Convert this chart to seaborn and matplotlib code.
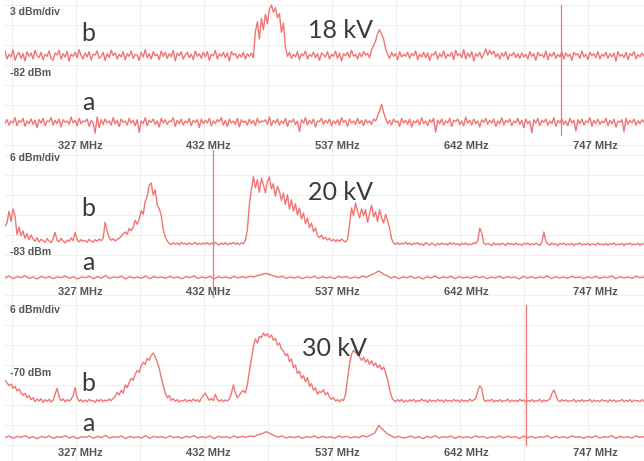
import numpy as np
import matplotlib
matplotlib.use("Agg")
import matplotlib.pyplot as plt
import seaborn as sns

# ---- sweep settings -------------------------------------------------------
freq_start, freq_stop = 266.0, 787.0
tick_freqs = [327, 432, 537, 642, 747]
tick_labels = ["327 MHz", "432 MHz", "537 MHz", "642 MHz", "747 MHz"]

voltages = ["18 kV", "20 kV", "30 kV"]
scale_labels = ["3 dBm/div", "6 dBm/div", "6 dBm/div"]
ref_labels = ["-82 dBm", "-83 dBm", "-70 dBm"]
marker_freqs = [719.0, 435.5, 691.0]

# ---- measured traces (dBm); "b" = discharge present, "a" = background -----
b_18kv = [
    -80.4, -81.6, -80.9, -81.3, -80.2, -81.8, -81.0, -80.6, -81.5, -80.8, -81.9, -80.5, -81.2, -80.7, -81.6, -80.3, -81.1, -81.4, -80.6, -81.7,
    -80.9, -81.2, -80.4, -81.5, -81.8, -80.7, -81.0, -80.3, -81.6, -80.8, -81.3, -80.5, -81.9, -80.9, -81.2, -80.6, -81.4, -80.2, -81.1, -81.6,
    -80.7, -81.3, -80.5, -81.7, -80.9, -81.0, -80.4, -81.5, -81.2, -80.6, -81.8, -80.8, -81.4, -80.3, -81.1, -80.7, -81.6, -80.9, -81.3, -80.5,
    -81.7, -80.8, -81.2, -80.4, -81.5, -80.9, -81.0, -81.8, -80.6, -81.3, -80.2, -81.4, -80.8, -81.6, -80.5, -81.1, -80.9, -81.7, -80.4, -81.2,
    -80.6, -81.5, -80.8, -81.3, -80.3, -81.9, -80.7, -81.1, -80.5, -81.6, -81.0, -80.6, -81.4, -80.9, -81.7, -80.4, -81.2, -80.8, -81.5, -80.6,
    -81.3, -80.5, -81.8, -80.9, -81.1, -80.3, -81.6, -80.8, -81.2, -80.6, -81.4, -80.7, -81.9, -80.5, -81.0, -80.8, -81.5, -80.9, -81.3, -80.6,
    -81.6, -80.8, -81.2, -80.7, -81.4, -77.5, -76.0, -78.6, -75.5, -77.2, -74.9, -76.3, -74.2, -73.5, -74.6, -73.9, -75.4, -74.8, -77.6, -76.2,
    -79.8, -81.2, -80.6, -81.5, -80.9, -81.3, -80.5, -81.7, -80.8, -81.1, -80.4, -81.6, -80.9, -81.2, -80.6, -81.4, -80.8, -81.8, -80.7, -81.0,
    -81.3, -80.5, -81.6, -80.9, -81.2, -80.4, -81.5, -80.7, -81.9, -80.8, -81.1, -80.6, -81.4, -80.3, -81.2, -80.9, -81.6, -80.7, -81.3, -80.5,
    -81.0, -80.8, -81.4, -80.2, -79.6, -78.9, -77.8, -77.2, -77.9, -78.6, -80.1, -80.9, -81.5, -80.6, -81.2, -80.8, -81.7, -80.5, -81.3, -80.9,
    -81.2, -80.6, -81.5, -80.8, -81.1, -80.4, -81.7, -80.9, -81.3, -80.6, -81.4, -80.7, -81.8, -80.9, -81.0, -80.5, -81.6, -80.8, -81.3, -80.4,
    -81.5, -80.9, -81.2, -80.6, -81.7, -80.3, -81.1, -80.8, -81.4, -80.2, -81.6, -80.7, -81.3, -80.5, -81.9, -80.8, -81.2, -80.6, -81.5, -80.9,
    -80.1, -81.0, -80.3, -80.9, -80.4, -81.3, -80.8, -81.6, -80.7, -81.2, -80.5, -81.7, -80.9, -81.1, -80.6, -81.4, -80.8, -81.5, -80.7, -81.3,
    -80.9, -81.6, -80.5, -81.2, -80.8, -81.8, -80.6, -81.1, -80.9, -81.4, -80.4, -81.7, -80.8, -81.2, -80.6, -81.5, -80.9, -81.3, -80.5, -81.6,
    -80.7, -81.2, -80.9, -81.8, -80.6, -81.0, -80.8, -81.5, -80.4, -81.3, -80.9, -81.7, -80.6, -81.1, -80.8, -81.4, -80.5, -81.6, -80.9, -81.2,
    -80.6, -81.5, -80.8, -81.3, -80.7, -81.9, -80.5, -81.2, -80.9, -81.4, -80.6, -81.7, -80.8, -81.1, -80.5, -81.6, -80.9, -81.3, -80.7, -81.2,
]
a_18kv = [
    -81.3, -80.7, -81.5, -80.9, -81.2, -80.4, -81.6, -80.8, -81.1, -80.5, -81.7, -80.9, -81.3, -80.6, -81.4, -80.8, -81.9, -80.7, -81.2, -80.5,
    -81.6, -80.9, -81.0, -80.4, -81.5, -80.8, -81.3, -80.6, -81.8, -80.7, -81.1, -80.9, -81.4, -80.3, -81.2, -80.8, -81.6, -80.5, -81.3, -80.9,
    -81.0, -80.6, -81.7, -80.8, -81.2, -82.7, -80.3, -81.9, -80.7, -81.4, -80.6, -81.2, -80.9, -81.5, -80.4, -81.3, -80.8, -81.7, -80.6, -81.1,
    -80.9, -81.5, -80.5, -81.2, -80.8, -81.6, -80.7, -82.6, -80.9, -81.3, -80.4, -81.6, -80.8, -81.1, -80.6, -81.4, -80.9, -81.8, -80.5, -81.2,
    -80.7, -81.4, -80.9, -81.0, -80.4, -81.7, -80.8, -81.3, -80.6, -81.5, -80.9, -81.2, -80.5, -81.6, -80.8, -81.1, -80.7, -81.9, -80.6, -81.3,
    -80.8, -81.2, -80.5, -81.6, -80.9, -81.3, -80.7, -81.0, -80.4, -81.5, -80.8, -81.7, -80.6, -81.2, -80.9, -81.4, -80.5, -81.8, -80.7, -81.1,
    -80.9, -81.5, -80.6, -81.3, -80.8, -81.6, -80.5, -81.2, -80.9, -81.0, -80.7, -81.4, -80.3, -81.6, -80.8, -81.2, -80.6, -81.5, -80.9, -81.3,
    -80.5, -81.7, -80.8, -81.1, -80.6, -81.4, -80.9, -82.5, -80.7, -81.2, -80.4, -81.5, -80.8, -81.3, -80.6, -81.8, -80.9, -81.0, -80.5, -81.4,
    -80.8, -81.2, -80.6, -81.6, -80.9, -81.3, -80.7, -81.5, -80.4, -81.1, -80.8, -81.7, -80.6, -81.2, -80.9, -81.4, -80.5, -81.3, -80.8, -81.6,
    -80.7, -81.2, -80.9, -81.4, -80.6, -80.9, -80.2, -79.4, -78.4, -79.6, -80.5, -81.3, -80.8, -81.5, -80.6, -81.1, -80.9, -81.7, -80.5, -81.2,
    -80.8, -81.4, -80.6, -81.8, -80.9, -81.2, -80.7, -81.5, -80.4, -81.3, -80.9, -81.6, -80.7, -81.1, -80.5, -82.6, -80.8, -81.3, -80.6, -81.5,
    -80.9, -81.2, -80.5, -81.7, -80.8, -81.0, -80.6, -81.4, -80.9, -81.6, -80.3, -81.2, -80.8, -81.5, -80.6, -81.3, -80.9, -81.8, -80.7, -81.1,
    -80.5, -81.4, -80.8, -81.2, -80.6, -81.7, -80.9, -81.3, -80.4, -81.5, -80.8, -81.1, -80.6, -81.6, -80.9, -81.2, -80.5, -81.4, -80.8, -81.9,
    -80.6, -81.3, -80.9, -82.7, -80.7, -81.2, -80.5, -81.6, -80.8, -81.1, -80.6, -81.5, -80.9, -81.3, -80.4, -81.7, -80.8, -81.2, -80.6, -81.4,
    -80.9, -81.6, -80.5, -81.2, -80.8, -82.4, -80.7, -81.3, -80.6, -81.5, -80.9, -81.1, -80.4, -81.7, -80.8, -81.3, -80.6, -81.4, -80.9, -81.2,
    -80.5, -81.6, -80.8, -81.3, -80.6, -81.8, -80.9, -81.1, -80.7, -82.5, -80.5, -81.4, -80.8, -81.2, -80.6, -81.5, -80.9, -81.3, -80.7, -81.1,
]
b_20kv = [
    -77.0, -76.0, -72.5, -75.5, -71.8, -74.0, -79.5, -77.2, -79.8, -78.4, -80.6, -79.2, -81.0, -79.6, -80.8, -81.5, -80.4, -81.7, -80.9, -81.3,
    -81.8, -80.7, -81.4, -81.9, -80.8, -78.8, -81.2, -81.6, -80.6, -81.4, -82.0, -81.1, -81.5, -80.5, -81.3, -78.8, -80.9, -81.7, -81.0, -81.5,
    -81.2, -81.8, -80.9, -81.4, -81.7, -81.0, -81.5, -80.8, -81.3, -80.6, -75.8, -78.5, -80.4, -81.2, -80.7, -81.4, -80.9, -80.6, -80.0, -79.3,
    -78.7, -79.4, -77.6, -78.3, -77.3, -75.2, -76.4, -74.8, -72.3, -73.4, -69.5, -68.0, -64.6, -64.0, -67.6, -66.0, -70.6, -71.8, -73.6, -78.0,
    -80.2, -81.4, -82.1, -82.5, -81.9, -82.4, -82.0, -82.6, -81.8, -82.3, -82.1, -82.5, -81.9, -82.4, -82.2, -81.8, -82.5, -82.1, -82.4, -82.0,
    -82.3, -81.9, -82.5, -82.0, -82.4, -81.8, -82.3, -82.6, -82.0, -82.4, -81.9, -82.5, -82.1, -82.3, -81.8, -82.4, -82.0, -82.5, -81.9, -82.2,
    -81.2, -78.0, -70.5, -66.0, -62.0, -65.5, -63.0, -66.8, -62.6, -64.5, -67.0, -63.5, -62.2, -65.8, -64.2, -68.0, -65.0, -66.5, -69.2, -67.0,
    -70.5, -67.5, -71.8, -69.0, -72.4, -70.2, -73.6, -71.5, -74.8, -73.0, -76.2, -74.5, -77.4, -76.0, -78.6, -77.5, -79.8, -80.4, -79.6, -80.8,
    -80.3, -81.1, -80.6, -81.4, -80.9, -81.6, -81.0, -81.5, -80.8, -81.3, -81.7, -80.9, -76.6, -71.5, -73.8, -70.0, -72.5, -74.5, -71.8, -73.8,
    -72.0, -75.8, -73.2, -70.6, -74.2, -72.6, -75.6, -72.0, -74.4, -76.0, -73.4, -75.2, -77.6, -80.8, -82.0, -82.4, -81.9, -82.5, -82.1, -82.3,
    -81.8, -82.4, -82.0, -82.6, -82.1, -82.3, -81.9, -82.5, -82.2, -82.7, -81.9, -82.3, -82.6, -82.0, -82.4, -82.8, -82.1, -82.5, -82.0, -82.4,
    -82.2, -82.6, -81.9, -82.4, -82.0, -82.5, -82.2, -82.7, -82.1, -82.4, -82.0, -82.6, -82.3, -82.5, -81.9, -82.2, -81.4, -77.5, -79.0, -82.0,
    -82.5, -82.1, -82.4, -82.8, -82.0, -82.5, -82.2, -82.6, -82.1, -82.3, -82.7, -82.0, -82.4, -82.2, -82.6, -82.0, -82.5, -82.3, -82.7, -82.1,
    -82.4, -82.0, -82.6, -82.2, -82.5, -82.1, -82.4, -82.7, -81.8, -78.7, -81.5, -82.3, -82.6, -82.0, -82.5, -82.2, -82.8, -82.1, -82.4, -82.0,
    -82.6, -82.3, -82.5, -82.1, -82.8, -82.2, -82.4, -82.0, -82.6, -82.3, -82.5, -82.1, -82.7, -82.2, -82.4, -82.6, -82.0, -82.5, -82.3, -82.6,
    -82.1, -82.7, -82.2, -82.4, -82.0, -82.6, -82.3, -82.5, -82.1, -82.8, -82.2, -82.4, -82.0, -82.6, -82.3, -82.5, -82.1, -82.7, -82.2, -82.4,
]
a_20kv = [
    -82.3, -81.7, -82.5, -81.9, -82.2, -81.6, -82.4, -82.0, -82.6, -81.8, -82.3, -81.9, -82.5, -82.0, -82.2, -81.7, -82.4, -81.9, -82.6, -82.0,
    -82.2, -81.8, -82.5, -81.9, -82.3, -81.6, -82.4, -82.0, -82.2, -81.8, -82.6, -81.9, -82.3, -82.0, -82.4, -81.7, -82.5, -81.9, -82.2, -82.0,
    -82.4, -81.8, -82.3, -82.0, -82.5, -81.9, -82.2, -81.7, -82.4, -82.0, -82.3, -81.8, -82.6, -81.9, -82.2, -82.0, -82.4, -81.8, -82.3, -81.9,
    -82.2, -81.8, -82.0, -81.5, -81.2, -80.9, -81.3, -81.7, -82.1, -81.8, -82.4, -82.0, -82.3, -81.9, -82.5, -82.0, -82.2, -81.8, -82.4, -81.9,
    -82.3, -82.0, -82.5, -81.8, -82.2, -81.9, -82.4, -82.0, -82.3, -81.7, -82.1, -81.4, -80.9, -80.2, -81.0, -81.6, -82.3, -81.9, -82.5, -82.0,
    -82.2, -81.8, -82.4, -82.0, -82.6, -81.9, -82.3, -81.7, -82.4, -82.0, -82.2, -81.8, -82.5, -81.9, -82.3, -82.0, -82.4, -81.8, -82.2, -81.9,
    -82.5, -82.0, -82.3, -81.8, -82.4, -81.9, -82.2, -82.0, -82.6, -81.8, -82.3, -81.9, -82.4, -82.0, -82.2, -81.7, -82.5, -81.9, -82.3, -82.0,
    -82.4, -81.8, -82.2, -82.0, -82.5, -81.9, -82.3, -81.8, -82.4, -82.0, -82.2, -81.7, -82.5, -81.9, -82.3, -82.0, -82.4, -81.8, -82.2, -82.0,
]
b_30kv = [
    -71.8, -72.6, -73.4, -72.9, -74.2, -73.6, -75.0, -74.4, -75.6, -76.3, -75.7, -77.0, -76.4, -77.6, -77.0, -78.2, -77.4, -78.0, -77.3, -78.4,
    -77.6, -78.1, -77.5, -78.3, -77.8, -76.0, -74.2, -76.8, -77.9, -77.4, -78.2, -77.6, -78.0, -77.5, -76.4, -74.0, -76.9, -78.1, -77.6, -78.3,
    -77.7, -78.2, -77.5, -78.0, -77.8, -78.4, -77.6, -78.1, -77.5, -78.2, -77.7, -78.0, -77.4, -77.9, -77.2, -76.6, -75.4, -76.2, -74.8, -75.6,
    -73.2, -74.0, -72.4, -71.2, -71.8, -70.0, -68.8, -69.5, -67.4, -66.4, -67.0, -65.2, -65.8, -64.3, -63.6, -64.8, -66.4, -68.2, -71.0, -73.4,
    -75.6, -77.0, -76.4, -77.8, -77.3, -78.1, -77.6, -78.3, -77.8, -78.0, -77.5, -78.2, -77.7, -78.1, -77.4, -78.0, -77.6, -78.3, -77.2, -76.4,
    -75.6, -76.8, -77.8, -77.2, -77.9, -76.0, -77.5, -78.1, -77.6, -78.2, -77.7, -78.0, -77.4, -75.8, -73.2, -75.6, -77.0, -76.2, -75.4, -74.8,
    -75.6, -73.2, -69.0, -65.4, -61.8, -59.4, -60.6, -58.6, -59.0, -57.6, -58.5, -57.8, -58.9, -58.2, -59.8, -59.2, -61.2, -60.6, -62.4, -63.0,
    -64.4, -63.8, -66.2, -65.4, -68.0, -67.2, -69.8, -69.0, -71.2, -70.4, -72.2, -71.0, -73.6, -72.8, -74.8, -74.0, -76.0, -75.2, -75.4, -74.6,
    -76.2, -75.4, -76.8, -77.5, -77.0, -78.0, -77.6, -78.2, -77.5, -77.9, -76.0, -71.5, -66.8, -64.0, -62.8, -63.6, -62.9, -64.8, -65.8, -64.9,
    -66.4, -65.5, -67.0, -65.9, -67.4, -66.6, -68.0, -67.2, -68.6, -67.8, -69.5, -71.5, -74.5, -76.8, -77.8, -78.2, -77.6, -78.1, -77.5, -78.3,
    -77.8, -78.2, -77.6, -78.0, -77.5, -78.3, -77.8, -78.1, -77.4, -78.0, -77.7, -78.4, -77.6, -78.1, -77.8, -78.2, -77.5, -78.0, -77.7, -78.3,
    -77.6, -78.1, -77.8, -78.2, -77.5, -78.0, -77.7, -78.3, -77.6, -78.1, -77.8, -78.2, -77.4, -78.0, -77.7, -77.2, -75.0, -73.5, -74.2, -77.6,
    -78.2, -77.7, -78.0, -77.5, -78.3, -77.8, -78.1, -77.6, -78.2, -77.9, -78.0, -77.4, -78.3, -77.7, -78.1, -77.8, -78.2, -77.5, -78.0, -77.7,
    -78.3, -77.8, -78.1, -77.6, -78.2, -77.9, -78.0, -77.5, -78.3, -77.7, -78.1, -77.8, -77.4, -75.8, -74.7, -76.2, -77.8, -78.2, -77.6, -78.0,
    -77.7, -78.2, -77.9, -78.0, -77.5, -78.3, -77.8, -78.1, -77.6, -78.2, -77.8, -78.0, -77.5, -78.3, -77.7, -78.1, -77.9, -78.2, -77.6, -78.0,
    -77.8, -78.3, -77.6, -78.1, -77.7, -78.2, -77.9, -78.0, -77.5, -78.2, -77.8, -78.1, -77.6, -78.3, -77.7, -78.0, -77.9, -78.2, -77.6, -78.1,
]
a_30kv = [
    -78.2, -77.7, -78.4, -77.8, -78.1, -77.6, -78.3, -77.9, -78.5, -77.8, -78.2, -77.7, -78.4, -77.9, -78.1, -77.6, -78.3, -77.8, -78.5, -77.9,
    -78.1, -77.7, -78.4, -77.8, -78.2, -77.5, -78.3, -77.9, -78.1, -77.7, -78.5, -77.8, -78.2, -77.9, -78.3, -77.6, -78.4, -77.8, -78.1, -77.9,
    -78.3, -77.7, -78.2, -77.9, -78.4, -77.8, -78.1, -77.6, -78.3, -77.9, -78.2, -77.7, -78.5, -77.8, -78.1, -77.9, -78.3, -77.7, -78.2, -77.8,
    -78.1, -77.7, -77.9, -77.3, -77.0, -76.4, -77.0, -77.6, -78.0, -77.7, -78.3, -77.9, -78.2, -77.8, -78.4, -77.9, -78.1, -77.7, -78.3, -77.8,
    -78.2, -77.9, -78.4, -77.7, -78.1, -77.8, -78.3, -77.9, -78.2, -77.6, -78.0, -77.4, -76.8, -74.5, -75.8, -76.9, -77.6, -78.2, -77.8, -78.3,
    -78.1, -77.7, -78.3, -77.9, -78.5, -77.8, -78.2, -77.6, -78.3, -77.9, -78.1, -77.7, -78.4, -77.8, -78.2, -77.9, -78.3, -77.7, -78.1, -77.8,
    -78.4, -77.9, -78.2, -77.7, -78.3, -77.8, -78.1, -77.9, -78.5, -77.7, -78.2, -77.8, -78.3, -77.9, -78.1, -77.6, -78.4, -77.8, -78.2, -77.9,
    -78.3, -77.7, -78.1, -77.9, -78.4, -77.8, -78.2, -77.7, -78.3, -77.9, -78.1, -77.6, -78.4, -77.8, -78.2, -77.9, -78.3, -77.7, -78.1, -77.9,
]

# ---- display settings for the three stacked screens ------------------------
PX_W, PX_H, DPI = 644, 461, 100
TRACE = "#f07575"
GRID = "#efefef"
LABEL_GREY = "#555555"
DARK = "#3a3a3a"

panels = [
    # pixel rows (top, bottom), y-limits in dBm, display offset of trace "a", dB per division
    dict(rows=(0, 153), ylim=(-95.7, -72.75), a_off=-10.0, div=3.0,
         b=b_18kv, a=a_18kv, tick_pad=-8.6, marker_span=(0.118, 0.967),
         scale_y=12, ref_y=73, b_y=33, a_y=103, kv_xy=(340, 30)),
    dict(rows=(150, 300), ylim=(-99.1, -54.1), a_off=-10.2, div=6.0,
         b=b_20kv, a=a_20kv, tick_pad=-9.5, marker_span=(0.02, 1.0),
         scale_y=158, ref_y=252, b_y=208, a_y=263, kv_xy=(341, 192)),
    dict(rows=(300, 461), ylim=(-96.0, -47.7), a_off=-10.8, div=6.0,
         b=b_30kv, a=a_30kv, tick_pad=-9.5, marker_span=(0.10, 0.97),
         scale_y=310, ref_y=373, b_y=383, a_y=423, kv_xy=(335, 348)),
]

sns.set_theme(style="white")
plt.rcParams["font.family"] = ["Liberation Sans", "DejaVu Sans"]

fig = plt.figure(figsize=(PX_W / DPI, PX_H / DPI), dpi=DPI)
fig.patch.set_facecolor("white")

# vertical graticule: ten divisions across the screen
grid_freqs = 271.5 + 52.2 * np.arange(10)
left = 5 / PX_W

for k, p in enumerate(panels):
    top_px, bot_px = p["rows"]
    ax = fig.add_axes([left, 1 - bot_px / PX_H, 1 - left, (bot_px - top_px) / PX_H])
    ax.set_facecolor("none")
    ax.set_zorder(len(panels) - k)
    ax.grid(False)

    # graticule, drawn underneath everything else in the panel
    lo, hi = p["ylim"]
    px_per_db = (bot_px - top_px) / (hi - lo)
    for gx in grid_freqs:
        ax.axvline(gx, color=GRID, lw=0.8, zorder=0)
    for gy in np.arange(hi - 5 / px_per_db, lo, -p["div"]):
        ax.axhline(gy, color=GRID, lw=0.8, zorder=0)

    b_vals = np.asarray(p["b"])
    a_vals = np.asarray(p["a"]) + p["a_off"]
    freq_b = np.linspace(freq_start, freq_stop, len(b_vals))
    freq_a = np.linspace(freq_start, freq_stop, len(a_vals))
    sns.lineplot(x=freq_b, y=b_vals, ax=ax, color=TRACE, lw=1.0)
    sns.lineplot(x=freq_a, y=a_vals, ax=ax, color=TRACE, lw=1.0)
    ax.axvline(marker_freqs[k], ymin=p["marker_span"][0], ymax=p["marker_span"][1],
               color=TRACE, lw=0.9)

    ax.set_xlim(freq_start, freq_stop)
    ax.set_ylim(lo, hi)
    ax.set_yticks([])

    ax.set_xticks(tick_freqs)
    ax.set_xticklabels(tick_labels)
    ax.tick_params(axis="x", which="both", length=0, pad=p["tick_pad"],
                   labelsize=8, labelcolor=LABEL_GREY)
    for lab in ax.get_xticklabels():
        lab.set_fontweight("bold")
    ax.set_xlabel("")
    ax.set_ylabel("")
    for s in ax.spines.values():
        s.set_visible(False)

    fig.text(10 / PX_W, 1 - p["scale_y"] / PX_H, scale_labels[k], fontsize=7.5,
             fontweight="bold", color=LABEL_GREY, va="center", ha="left")
    fig.text(10 / PX_W, 1 - p["ref_y"] / PX_H, ref_labels[k], fontsize=7.5,
             fontweight="bold", color=LABEL_GREY, va="center", ha="left")
    fig.text(88 / PX_W, 1 - p["b_y"] / PX_H, "b", fontsize=18, family="Lato",
             color=DARK, va="center", ha="center")
    fig.text(88 / PX_W, 1 - p["a_y"] / PX_H, "a", fontsize=18, family="Lato",
             color=DARK, va="center", ha="center")
    fig.text(p["kv_xy"][0] / PX_W, 1 - p["kv_xy"][1] / PX_H, voltages[k],
             fontsize=18, family="Lato", color=DARK, va="center", ha="center")

fig.savefig("out.png", dpi=DPI, facecolor="white")
